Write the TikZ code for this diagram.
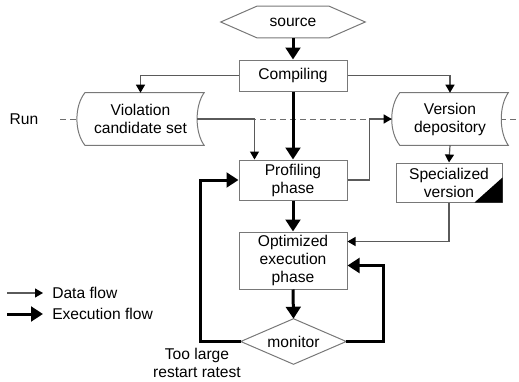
\documentclass[tikz,border=0pt]{standalone}
\usepackage{fontspec}
\setmainfont{Liberation Sans}
\usetikzlibrary{arrows.meta,calc}
\pgfdeclarelayer{back}
\pgfsetlayers{back,main}
\definecolor{boxgray}{RGB}{120,120,120}
\definecolor{linegray}{RGB}{90,90,90}
\definecolor{dashgray}{RGB}{110,110,110}
% stored-data outline: convex left side, concave right side
\newcommand\storeddata[1]{%
  \path[draw=boxgray, fill=white, line width=0.75pt]
    ([xshift=6pt]#1.north west) -- (#1.north east)
    .. controls ([xshift=-7pt,yshift=-10pt]#1.north east) and ([xshift=-7pt,yshift=10pt]#1.south east) .. (#1.south east)
    -- ([xshift=6pt]#1.south west)
    .. controls ([xshift=-2pt,yshift=10pt]#1.south west) and ([xshift=-2pt,yshift=-10pt]#1.north west) .. ([xshift=6pt]#1.north west)
    -- cycle;}
\begin{document}
\begin{tikzpicture}[x=0.75pt, y=-0.75pt,
  font=\fontsize{11.7pt}{13.5pt}\selectfont,
  box/.style={draw=boxgray, line width=0.75pt, align=center, inner sep=0pt},
  shapetext/.style={align=center, inner sep=0pt},
  outline/.style={draw=boxgray, line width=0.75pt},
  data/.style={draw=linegray, line width=0.9pt, -{Triangle[length=6pt,width=6.75pt,color=black]}},
  exec/.style={draw=black, line width=2.25pt, -{Triangle[length=9pt,width=11pt]}},
  lbl/.style={inner sep=0pt, align=center}
]
\useasboundingbox (0,0) rectangle (519,382);

% nodes
\node[shapetext, minimum width=108pt, minimum height=23.25pt] (src) at (293,22) {source};
\node[box, minimum width=81pt, minimum height=23.25pt] (comp) at (293,75.5) {Compiling};
\node[shapetext, minimum width=95pt, minimum height=39pt] (vcs) at (140.5,119) {Violation\\candidate set};
\node[shapetext, minimum width=87pt, minimum height=39pt] (vd) at (450,119) {Version\\depository};
\node[box, minimum width=81pt, minimum height=30pt] (prof) at (293,180) {Profiling\\phase};
\node[box, minimum width=79.5pt, minimum height=29.25pt] (spec) at (449,182.5) {Specialized\\version};
\node[box, minimum width=81pt, minimum height=42.75pt] (opt) at (293,260.5) {Optimized\\execution\\phase};
\node[shapetext, minimum width=78.75pt, minimum height=33.75pt] (mon) at (293.5,341.5) {monitor};

\node[lbl] (run) at (24,119) {Run};
\node[lbl] (toolarge) at (197,363) {Too large\\restart ratest};

% outlines of the hexagon and the decision
\draw[outline] (src.west) -- ($(src.north west)+(36,0)$) -- ($(src.north east)+(-36,0)$)
  -- (src.east) -- ($(src.south east)+(-36,0)$) -- ($(src.south west)+(36,0)$) -- cycle;
\draw[outline] (mon.west) -- (mon.north) -- (mon.east) -- (mon.south) -- cycle;

% corner mark of the specialized version
\fill[black] (spec.south east) -- ($(spec.south east)+(-28,0)$) -- ($(spec.south east)+(0,-25)$) -- cycle;

% run line behind the stored-data shapes
\coordinate (runL) at (60,119);
\coordinate (runR) at (519,119);
\begin{pgfonlayer}{back}
  \draw[dashgray, line width=0.75pt, dash pattern=on 4.5pt off 3pt] (runL) -- (runR);
  \storeddata{vcs}
  \storeddata{vd}
\end{pgfonlayer}

% execution flow
\draw[exec] (src.south) -- (comp.north);
\draw[exec] (comp.south) -- (prof.north);
\draw[exec] (prof.south) -- (opt.north);
\draw[exec] (opt.south) -- (mon.north);
\draw[exec] (mon.east) -- ++(37,0) |- ($(opt.south east)+(0,-24)$);
\draw[exec] (mon.west) -- ++(-40,0) |- (prof.west);

% data flow
\draw[data] (comp.west) -| (vcs.north);
\draw[data] (comp.east) -| (vd.north);
\draw[data] ($(vcs.east)+(-7,0)$) -| ($(prof.north west)+(16,0)$);
\draw[data] (prof.east) -- ++(22,0) |- (vd.west);
\draw[data] (vd.south) -- (spec.north);
\draw[data] (spec.south) |- ($(opt.north east)+(0,10)$);

% legend
\coordinate (legA) at (7,293);
\coordinate (legB) at (7,314);
\node[lbl, anchor=west] (legdata) at (52,293) {Data flow};
\node[lbl, anchor=west] (legexec) at (52,314) {Execution flow};
\draw[data] (legA) -- ($(legdata.west)+(-9,0)$);
\draw[exec] (legB) -- ($(legexec.west)+(-9,0)$);
\end{tikzpicture}
\end{document}
